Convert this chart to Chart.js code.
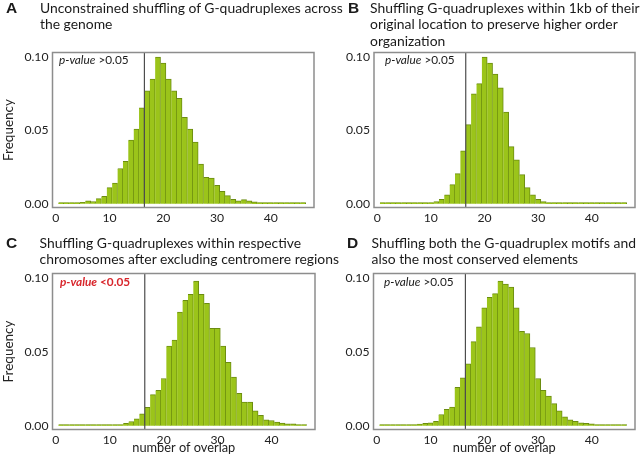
<!DOCTYPE html>
<html>
<head>
<meta charset="utf-8">
<script src="https://cdn.jsdelivr.net/npm/chart.js@4.4.0/dist/chart.umd.min.js"></script>
<style>
html,body{margin:0;padding:0;background:#fff;}
#wrap{position:relative;width:640px;height:458px;overflow:hidden;font-family:Lato,'Open Sans',sans-serif;color:#1a1a1a;}
canvas{position:absolute;}
.letter{position:absolute;font-family:'Liberation Sans',Arial,sans-serif;font-weight:bold;font-size:15.5px;line-height:17px;}
.title{position:absolute;font-size:13.9px;line-height:16.4px;white-space:nowrap;}
.pv{position:absolute;font-size:11.8px;line-height:14px;white-space:nowrap;}
.pv i{font-style:italic;}
.red{color:#d8262c;font-weight:bold;}
</style>
</head>
<body>
<div id="wrap">
  <canvas id="cA" width="320" height="229" style="left:0;top:0;width:320px;height:229px"></canvas>
  <canvas id="cB" width="320" height="229" style="left:320px;top:0;width:320px;height:229px"></canvas>
  <canvas id="cC" width="320" height="229" style="left:0;top:229px;width:320px;height:229px"></canvas>
  <canvas id="cD" width="320" height="229" style="left:320px;top:229px;width:320px;height:229px"></canvas>

  <div class="letter" style="left:6px;top:-1px">A</div>
  <div class="title" style="left:40px;top:0px">Unconstrained shuffling of G-quadruplexes across<br>the genome</div>
  <div class="letter" style="left:348px;top:-1px">B</div>
  <div class="title" style="left:370px;top:0px">Shuffling G-quadruplexes within 1kb of their<br>original location to preserve higher order<br>organization</div>
  <div class="letter" style="left:6px;top:234px">C</div>
  <div class="title" style="left:39.5px;top:234.5px">Shuffling G-quadruplexes within respective<br>chromosomes after excluding centromere regions</div>
  <div class="letter" style="left:347px;top:234px">D</div>
  <div class="title" style="left:371.5px;top:234.5px">Shuffling both the G-quadruplex motifs and<br>also the most conserved elements</div>

  <div class="pv" style="left:59px;top:52.5px"><i>p-value</i> &gt;0.05</div>
  <div class="pv" style="left:385px;top:52.5px"><i>p-value</i> &gt;0.05</div>
  <div class="pv red" style="left:60px;top:274.5px"><i>p-value</i> &lt;0.05</div>
  <div class="pv" style="left:384px;top:274.5px"><i>p-value</i> &gt;0.05</div>
</div>
<script>
// ---- data ----
const overlapBins = [1,2,3,4,5,6,7,8,9,10,11,12,13,14,15,16,17,18,19,20,21,22,23,24,25,26,27,28,29,30,31,32,33,34,35,36,37,38,39,40,41,42,43,44,45,46];
const freqA = [0.0008,0.0008,0.0008,0.0008,0.001,0.002,0.0015,0.0035,0.005,0.011,0.014,0.024,0.029,0.0435,0.051,0.0655,0.077,0.085,0.100,0.096,0.085,0.077,0.072,0.059,0.051,0.042,0.027,0.018,0.0175,0.0125,0.0085,0.0055,0.003,0.002,0.0028,0.002,0.0012,0.0008,0.0008,0.0008,0.0008,0.0008,0.0008,0.0008,0.0008,0.0008];
const freqB = [0.0008,0.0008,0.0008,0.0008,0.0008,0.0008,0.0008,0.0008,0.0008,0.0008,0.0015,0.003,0.006,0.013,0.0205,0.036,0.054,0.075,0.082,0.100,0.096,0.0885,0.079,0.0625,0.039,0.030,0.0198,0.011,0.006,0.003,0.0014,0.0008,0.0008,0.0008,0.0008,0.0008,0.0008,0.0008,0.0008,0.0008,0.0008,0.0008,0.0008,0.0008,0.0008,0.0008];
const freqC = [0.0008,0.0008,0.0008,0.0008,0.0008,0.0008,0.0008,0.0008,0.0008,0.0008,0.0008,0.0008,0.0015,0.0028,0.0047,0.008,0.0125,0.021,0.024,0.032,0.054,0.058,0.077,0.085,0.089,0.098,0.089,0.083,0.066,0.066,0.054,0.043,0.033,0.022,0.016,0.016,0.010,0.007,0.004,0.0035,0.0024,0.0017,0.0012,0.0012,0.0008,0.0008];
const freqD = [0.0008,0.0008,0.0008,0.0008,0.0008,0.0008,0.0008,0.001,0.0015,0.002,0.003,0.0076,0.011,0.0126,0.026,0.0324,0.042,0.057,0.067,0.080,0.087,0.0895,0.098,0.096,0.094,0.080,0.064,0.0625,0.053,0.032,0.024,0.020,0.015,0.010,0.006,0.004,0.003,0.002,0.0015,0.0012,0.0008,0.0008,0.0008,0.0008,0.0008,0.0008];
const observedOverlap = 16.5;
const xTickValues = [0,10,20,30,40];
const yTickValues = [0, 0.05, 0.10];
const xTitle = 'number of overlap';
const yTitle = 'Frequency';

// ---- style ----
const FONT = "Lato, 'Open Sans', sans-serif";
const BAR_FILL = '#9bc41a';
const BAR_EDGE = '#6b8c10';
const FRAME = '#8d8d8d';
const VLINE = '#4d4d4d';
const X_MIN = -0.6, X_MAX = 48.05;
const Y_MIN = -0.0026, Y_MAX = 0.1032;

const framePlugin = {
  id: 'frame',
  afterDatasetsDraw(chart) {
    const {ctx, chartArea: a, scales} = chart;
    ctx.save();
    const xv = scales.x.getPixelForValue(observedOverlap);
    ctx.strokeStyle = VLINE;
    ctx.lineWidth = 1.2;
    ctx.beginPath();
    ctx.moveTo(xv, a.top);
    ctx.lineTo(xv, a.bottom);
    ctx.stroke();
    ctx.strokeStyle = FRAME;
    ctx.lineWidth = 1.5;
    ctx.strokeRect(a.left, a.top, a.right - a.left, a.bottom - a.top);
    ctx.restore();
  }
};

function makeChart(id, freq, box) {
  const H = 229, W = 320;
  return new Chart(document.getElementById(id), {
    type: 'bar',
    data: {
      datasets: [{
        data: overlapBins.map((b, i) => ({x: b, y: freq[i]})),
        backgroundColor: BAR_FILL,
        borderColor: BAR_EDGE,
        borderWidth: {top: 1, right: 1, left: 0, bottom: 0},
        borderSkipped: false,
        barPercentage: 1,
        categoryPercentage: 1
      }]
    },
    options: {
      responsive: false,
      animation: false,
      devicePixelRatio: 1,
      layout: {padding: {top: box.top, right: W - box.right, left: 0, bottom: 0}},
      plugins: {legend: {display: false}, tooltip: {enabled: false}},
      scales: {
        x: {
          type: 'linear', min: X_MIN, max: X_MAX, offset: false,
          grid: {display: false, drawTicks: false}, border: {display: false},
          afterBuildTicks: s => { s.ticks = xTickValues.map(v => ({value: v})); },
          afterFit: s => { s.height = H - box.bottom; },
          ticks: {padding: 3, autoSkip: false, maxRotation: 0, color: '#222',
                  font: {family: FONT, size: 12.2}, callback: v => String(v)},
          title: {display: box.xTitle, text: xTitle, color: '#222',
                  font: {family: FONT, size: 12.8}, padding: {top: 0, bottom: 2.5}}
        },
        y: {
          min: Y_MIN, max: Y_MAX,
          grid: {display: false, drawTicks: false}, border: {display: false},
          afterBuildTicks: s => { s.ticks = yTickValues.map(v => ({value: v})); },
          afterFit: s => { s.width = box.left; },
          ticks: {padding: 4, autoSkip: false, color: '#222',
                  font: {family: FONT, size: 12.2}, callback: v => Number(v).toFixed(2)},
          title: {display: box.yTitle, text: yTitle, color: '#222',
                  font: {family: FONT, size: 13.5}, padding: {top: 1, bottom: 0}}
        }
      }
    },
    plugins: [framePlugin]
  });
}

makeChart('cA', freqA, {left: 52.5, top: 52.5, right: 314, bottom: 207.5, xTitle: false, yTitle: true});
makeChart('cB', freqB, {left: 54, top: 52.5, right: 315, bottom: 207.5, xTitle: false, yTitle: false});
makeChart('cC', freqC, {left: 52.5, top: 44.5, right: 315, bottom: 200.5, xTitle: true, yTitle: true});
makeChart('cD', freqD, {left: 53.5, top: 44.5, right: 315, bottom: 200.5, xTitle: true, yTitle: false});
</script>
</body>
</html>
